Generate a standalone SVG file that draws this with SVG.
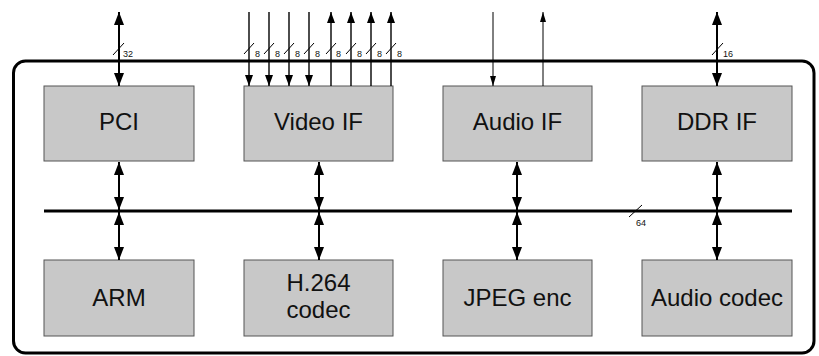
<svg xmlns="http://www.w3.org/2000/svg" width="819" height="356" viewBox="0 0 819 356">
<defs>
<marker id="big" viewBox="0 0 13 10" markerWidth="13" markerHeight="10" refX="13" refY="5" orient="auto-start-reverse" markerUnits="userSpaceOnUse"><path d="M0,0 L13,5 L0,10 z" fill="#000"/></marker>
<marker id="mid" viewBox="0 0 11 8" markerWidth="11" markerHeight="8" refX="11" refY="4" orient="auto-start-reverse" markerUnits="userSpaceOnUse"><path d="M0,0 L11,4 L0,8 z" fill="#000"/></marker>
<marker id="small" viewBox="0 0 10 6" markerWidth="10" markerHeight="6" refX="10" refY="3" orient="auto-start-reverse" markerUnits="userSpaceOnUse"><path d="M0,0 L10,3 L0,6 z" fill="#000"/></marker>
<style>
.box{fill:#c8c8c8;stroke:#555;stroke-width:1}
.lbl{font-family:"Liberation Sans",Arial,sans-serif;font-size:24px;fill:#111;text-anchor:middle}
.w{font-family:"Liberation Sans",Arial,sans-serif;font-size:9px;fill:#111}
.thick{stroke:#000;stroke-width:2;fill:none}
.vid{stroke:#000;stroke-width:1.4;fill:none}
.aud{stroke:#000;stroke-width:1;fill:none}
.sl{stroke:#000;stroke-width:1;fill:none}
</style>
</defs>
<rect id="chip" x="13.5" y="61" width="800.5" height="292" rx="12" ry="12" fill="none" stroke="#000" stroke-width="3"/>
<line id="bus" x1="44" y1="211" x2="792" y2="211" stroke="#000" stroke-width="3"/>
<g id="pci"><rect class="box" x="44" y="86" width="150" height="75"/><text class="lbl" x="119" y="130">PCI</text></g>
<g id="videoif"><rect class="box" x="244" y="86" width="149" height="75"/><text class="lbl" x="318.5" y="130">Video IF</text></g>
<g id="audioif"><rect class="box" x="443" y="86" width="149" height="75"/><text class="lbl" x="517.5" y="130">Audio IF</text></g>
<g id="ddrif"><rect class="box" x="642" y="86" width="150" height="75"/><text class="lbl" x="717" y="130">DDR IF</text></g>
<g id="arm"><rect class="box" x="44" y="260" width="150" height="76"/><text class="lbl" x="119" y="306">ARM</text></g>
<g id="h264"><rect class="box" x="244" y="260" width="149" height="76"/><text class="lbl" x="318.5" y="291">H.264</text><text class="lbl" x="318.5" y="318">codec</text></g>
<g id="jpeg"><rect class="box" x="443" y="260" width="149" height="76"/><text class="lbl" x="517.5" y="306">JPEG enc</text></g>
<g id="audiocodec"><rect class="box" x="642" y="260" width="150" height="76"/><text class="lbl" x="717" y="306">Audio codec</text></g>
<g id="connectors">
<line class="thick" x1="119" y1="12" x2="119" y2="86" marker-start="url(#big)" marker-end="url(#big)"/>
<line class="thick" x1="717" y1="12" x2="717" y2="86" marker-start="url(#big)" marker-end="url(#big)"/>
<line class="vid" x1="249" y1="12" x2="249" y2="86" marker-end="url(#mid)"/>
<line class="vid" x1="269" y1="12" x2="269" y2="86" marker-end="url(#mid)"/>
<line class="vid" x1="289" y1="12" x2="289" y2="86" marker-end="url(#mid)"/>
<line class="vid" x1="309" y1="12" x2="309" y2="86" marker-end="url(#mid)"/>
<line class="vid" x1="331" y1="86" x2="331" y2="12" marker-end="url(#mid)"/>
<line class="vid" x1="351" y1="86" x2="351" y2="12" marker-end="url(#mid)"/>
<line class="vid" x1="371" y1="86" x2="371" y2="12" marker-end="url(#mid)"/>
<line class="vid" x1="391" y1="86" x2="391" y2="12" marker-end="url(#mid)"/>
<line class="aud" x1="493" y1="12" x2="493" y2="86" marker-end="url(#small)"/>
<line class="aud" x1="543" y1="86" x2="543" y2="12" marker-end="url(#small)"/>
<line class="thick" x1="119" y1="162" x2="119" y2="210" marker-start="url(#big)" marker-end="url(#big)"/>
<line class="thick" x1="319" y1="162" x2="319" y2="210" marker-start="url(#big)" marker-end="url(#big)"/>
<line class="thick" x1="517" y1="162" x2="517" y2="210" marker-start="url(#big)" marker-end="url(#big)"/>
<line class="thick" x1="717" y1="162" x2="717" y2="210" marker-start="url(#big)" marker-end="url(#big)"/>
<line class="thick" x1="119" y1="212" x2="119" y2="260" marker-start="url(#big)" marker-end="url(#big)"/>
<line class="thick" x1="319" y1="212" x2="319" y2="260" marker-start="url(#big)" marker-end="url(#big)"/>
<line class="thick" x1="517" y1="212" x2="517" y2="260" marker-start="url(#big)" marker-end="url(#big)"/>
<line class="thick" x1="717" y1="212" x2="717" y2="260" marker-start="url(#big)" marker-end="url(#big)"/>
<path class="sl" d="M113,55 L124,43 M712,55 L723,43 M629,217 L642,205 M244,54 L254,43 M264,54 L274,43 M284,54 L294,43 M304,54 L314,43 M326,54 L336,43 M346,54 L356,43 M366,54 L376,43 M386,54 L396,43"/>
<text class="w" x="123" y="57">32</text>
<text class="w" x="723" y="57">16</text>
<text class="w" x="636" y="226">64</text>
<text class="w" x="255" y="57">8</text>
<text class="w" x="275" y="57">8</text>
<text class="w" x="295" y="57">8</text>
<text class="w" x="315" y="57">8</text>
<text class="w" x="336" y="57">8</text>
<text class="w" x="357" y="57">8</text>
<text class="w" x="377" y="57">8</text>
<text class="w" x="397" y="57">8</text>
</g>
</svg>
